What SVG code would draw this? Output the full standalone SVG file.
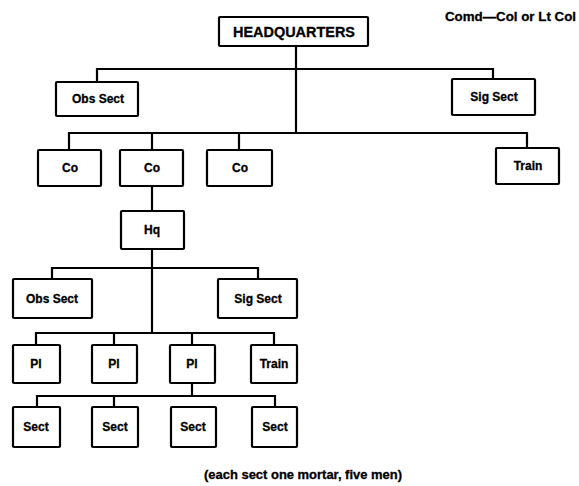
<svg xmlns="http://www.w3.org/2000/svg" width="579" height="486" viewBox="0 0 579 486">
<style>
  .box { fill: #fff; stroke: #000; stroke-width: 2.2; }
  .lbl { font-family: "Liberation Sans", Arial, sans-serif; font-weight: bold; font-size: 12px; fill: #000; stroke: #000; stroke-width: 0.3; text-anchor: middle; dominant-baseline: central; }
  .conn { fill: none; stroke: #000; stroke-width: 2.2; }
  .note { font-family: "Liberation Sans", Arial, sans-serif; font-weight: bold; fill: #000; stroke: #000; stroke-width: 0.3; }
</style>
<rect width="579" height="486" fill="#fff"/>
<g id="connectors" class="conn">
  <path d="M296 46 V133"/>
  <path d="M97 82 V69 H493 V79"/>
  <path d="M69 150 V133 H527 V148"/>
  <path d="M152 133 V150"/>
  <path d="M239 133 V150"/>
  <path d="M152 186 V211"/>
  <path d="M152 249 V333"/>
  <path d="M52 279 V268 H258 V279"/>
  <path d="M36 345 V333 H274 V345"/>
  <path d="M114 333 V345"/>
  <path d="M192 333 V345"/>
  <path d="M192 383 V396"/>
  <path d="M37 407 V396 H275 V407"/>
  <path d="M114 396 V407"/>
</g>
<g id="hq"><rect class="box" x="219" y="17" width="149" height="29" rx="1"/><text class="lbl" x="294" y="32" style="font-size:14px" textLength="122" lengthAdjust="spacingAndGlyphs">HEADQUARTERS</text></g>
<g id="obs1"><rect class="box" x="56" y="82" width="82" height="34" rx="1"/><text class="lbl" x="98" y="99">Obs Sect</text></g>
<g id="sig1"><rect class="box" x="452" y="79" width="83" height="36" rx="1"/><text class="lbl" x="494" y="97">Sig Sect</text></g>
<g id="co1"><rect class="box" x="38" y="150" width="63" height="36" rx="1"/><text class="lbl" x="70" y="168">Co</text></g>
<g id="co2"><rect class="box" x="120" y="150" width="63" height="36" rx="1"/><text class="lbl" x="152" y="168">Co</text></g>
<g id="co3"><rect class="box" x="207" y="150" width="65" height="36" rx="1"/><text class="lbl" x="240" y="168">Co</text></g>
<g id="train1"><rect class="box" x="496" y="148" width="63" height="36" rx="1"/><text class="lbl" x="528" y="166">Train</text></g>
<g id="hq2"><rect class="box" x="121" y="211" width="63" height="38" rx="1"/><text class="lbl" x="152" y="230">Hq</text></g>
<g id="obs2"><rect class="box" x="13" y="279" width="79" height="39" rx="1"/><text class="lbl" x="52" y="299">Obs Sect</text></g>
<g id="sig2"><rect class="box" x="218" y="279" width="79" height="39" rx="1"/><text class="lbl" x="258" y="299">Sig Sect</text></g>
<g id="pl1"><rect class="box" x="13" y="345" width="47" height="38" rx="1"/><text class="lbl" x="36" y="364">Pl</text></g>
<g id="pl2"><rect class="box" x="92" y="345" width="45" height="38" rx="1"/><text class="lbl" x="114" y="364">Pl</text></g>
<g id="pl3"><rect class="box" x="170" y="345" width="45" height="38" rx="1"/><text class="lbl" x="192" y="364">Pl</text></g>
<g id="train2"><rect class="box" x="251" y="345" width="46" height="38" rx="1"/><text class="lbl" x="274" y="364">Train</text></g>
<g id="sect1"><rect class="box" x="13" y="407" width="47" height="40" rx="1"/><text class="lbl" x="36" y="427">Sect</text></g>
<g id="sect2"><rect class="box" x="92" y="407" width="46" height="40" rx="1"/><text class="lbl" x="115" y="427">Sect</text></g>
<g id="sect3"><rect class="box" x="171" y="407" width="45" height="40" rx="1"/><text class="lbl" x="193" y="427">Sect</text></g>
<g id="sect4"><rect class="box" x="252" y="407" width="45" height="40" rx="1"/><text class="lbl" x="275" y="427">Sect</text></g>
<text class="note" x="445" y="21" font-size="13" textLength="131" lengthAdjust="spacingAndGlyphs">Comd—Col or Lt Col</text>
<text class="note" x="204" y="479" font-size="12" textLength="198" lengthAdjust="spacingAndGlyphs">(each sect one mortar, five men)</text>
</svg>
